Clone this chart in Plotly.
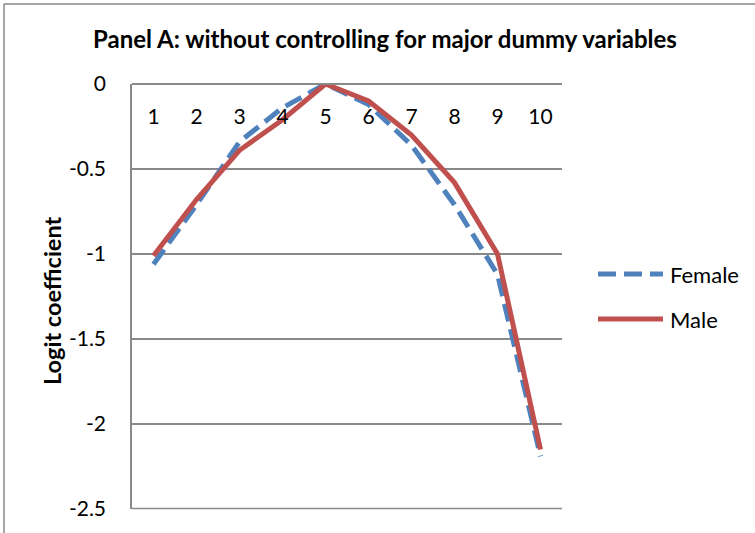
import plotly.graph_objects as go

# Logit coefficients by decile, estimated without major dummy controls
categories = [1, 2, 3, 4, 5, 6, 7, 8, 9, 10]
female = [-1.06, -0.71, -0.34, -0.14, 0.0, -0.12, -0.36, -0.71, -1.12, -2.19]
male = [-1.01, -0.68, -0.39, -0.21, 0.0, -0.10, -0.30, -0.58, -1.00, -2.15]

y_ticks = [0, -0.5, -1, -1.5, -2, -2.5]
y_tick_text = ["0", "-0.5", "-1", "-1.5", "-2", "-2.5"]

BLUE = "#4F81BD"
RED = "#C0504D"
GRID = "#898989"
FONT = "Lato, 'Open Sans', sans-serif"

W, H = 755, 533
L, R, T, B = 132, 193, 84, 24
PW, PH = W - L - R, H - T - B


def px_x(p):
    return (p - L) / PW


def px_y(p):
    return (H - B - p) / PH


DASH = "18px,8px"

fig = go.Figure()
fig.add_trace(go.Scatter(x=categories, y=female, mode="lines", name="Female",
                         line=dict(color=BLUE, width=5, dash=DASH)))
fig.add_trace(go.Scatter(x=categories, y=male, mode="lines", name="Male",
                         line=dict(color=RED, width=5)))

# chart-area border (left and top edges)
bx, by = px_x(4), px_y(4)
shapes = [
    dict(type="line", xref="paper", yref="paper", x0=bx, x1=px_x(W + 20),
         y0=by, y1=by, line=dict(color=GRID, width=1.5)),
    dict(type="line", xref="paper", yref="paper", x0=bx, x1=bx,
         y0=by, y1=px_y(H + 20), line=dict(color=GRID, width=1.5)),
    # lowest gridline along the bottom edge of the plot area
    dict(type="line", xref="paper", yref="paper", x0=0, x1=1,
         y0=px_y(508.5), y1=px_y(508.5), line=dict(color=GRID, width=1.5)),
]

# legend samples
leg_x0, leg_x1, leg_tx = px_x(598), px_x(663), px_x(668)
legend_items = [("Female", BLUE, DASH, px_y(274)), ("Male", RED, "solid", px_y(319))]
annotations = []
for name, color, dash, ly in legend_items:
    shapes.append(dict(type="line", xref="paper", yref="paper", x0=leg_x0, x1=leg_x1,
                       y0=ly, y1=ly, line=dict(color=color, width=5, dash=dash)))
    annotations.append(dict(text=name, xref="paper", yref="paper", x=leg_tx, y=ly,
                            xanchor="left", yanchor="middle", showarrow=False,
                            font=dict(family=FONT, size=22, color="#000000")))

annotations.append(dict(text="<b>Logit coefficient</b>", xref="paper", yref="paper",
                        x=px_x(52), y=px_y(301), textangle=-90, showarrow=False,
                        xanchor="center", yanchor="middle",
                        font=dict(family=FONT, size=23.5, color="#000000")))

fig.update_layout(
    width=W, height=H,
    margin=dict(l=L, r=R, t=T, b=B, pad=0),
    paper_bgcolor="white", plot_bgcolor="white",
    showlegend=False,
    font=dict(family=FONT, size=21, color="#000000"),
    title=dict(text="<b>Panel A: without controlling for major dummy variables</b>",
               x=385 / W, xref="container", xanchor="center",
               y=1 - 40 / H, yref="container", yanchor="middle",
               font=dict(family=FONT, size=24, color="#000000")),
    shapes=shapes,
    annotations=annotations,
)

# category axis crosses the value axis at 0 (top of the plot), labels beneath it
fig.update_xaxes(
    range=[0.5, 10.5], tickmode="array", tickvals=categories,
    ticktext=[str(c) for c in categories],
    side="bottom", anchor="free", position=1.0, ticks="", ticklabelstandoff=14,
    showline=True, linecolor=GRID, linewidth=1.5, showgrid=False, zeroline=False,
    tickfont=dict(family=FONT, size=21, color="#000000"),
)
fig.update_yaxes(
    range=[-2.5, 0], tickmode="array", tickvals=y_ticks, ticktext=y_tick_text,
    ticks="", ticklabelstandoff=20, showline=True, linecolor=GRID, linewidth=1.5,
    showgrid=True, gridcolor=GRID, gridwidth=1.5, zeroline=False,
    tickfont=dict(family=FONT, size=21, color="#000000"),
)

fig.write_html("out.html")
